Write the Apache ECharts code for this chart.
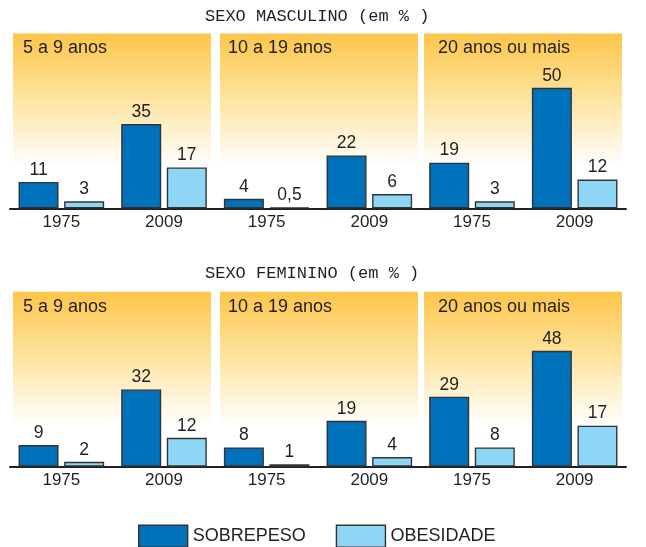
<!DOCTYPE html>
<html>
<head>
<meta charset="utf-8">
<script src="https://cdn.jsdelivr.net/npm/echarts@6/dist/echarts.min.js"></script>
<style>
html,body{margin:0;padding:0;background:#fff;}
#chart{width:646px;height:547px;}
</style>
</head>
<body>
<div id="chart"></div>
<script>
// ---- data ----
const years = ['1975', '2009'];
const ageGroups = ['5 a 9 anos', '10 a 19 anos', '20 anos ou mais'];
const maleSobrepeso = [11, 35, 4, 22, 19, 50];
const maleObesidade = [3, 17, 0.5, 6, 3, 12];
const femaleSobrepeso = [9, 32, 8, 19, 29, 48];
const femaleObesidade = [2, 12, 1, 4, 8, 17];
const rowTitles = ['SEXO MASCULINO (em % )', 'SEXO FEMININO (em % )'];
const seriesNames = ['SOBREPESO', 'OBESIDADE'];

// ---- layout / style ----
const FONT = "'Liberation Sans', Arial, sans-serif";
const MONO = "'Liberation Mono', 'DejaVu Sans Mono', monospace";
const TXT = '#231f20';
const DARK = '#0072bc';
const LIGHT = '#8ed6f6';
const gridLeft = 10, gridWidth = 616, gridHeight = 175;
const rowTops = [33.5, 291.7];
const panelLefts = [13, 220, 424];
const panelWidth = 198;
const labelOffsets = [10, 8, 14];
const yMax = 72.5;

const categories = [];
ageGroups.forEach((g, gi) => years.forEach(y => categories.push(gi + '|' + y)));

function grad() {
  return {
    type: 'linear', x: 0, y: 0, x2: 0, y2: 1,
    colorStops: [
      { offset: 0, color: '#fdc54a' },
      { offset: 0.35, color: '#fee29a' },
      { offset: 0.76, color: '#ffffff' },
      { offset: 1, color: '#ffffff' }
    ]
  };
}

const graphics = [];
rowTops.forEach((top, r) => {
  panelLefts.forEach((px, p) => {
    graphics.push({
      type: 'rect', z: -10, silent: true,
      shape: { x: px, y: top, width: panelWidth, height: gridHeight },
      style: { fill: grad() }
    });
    graphics.push({
      type: 'text', z: -5, silent: true,
      x: px + labelOffsets[p], y: top + 15,
      style: {
        text: ageGroups[p], fill: TXT, font: '18px ' + FONT,
        verticalAlign: 'middle', align: 'left'
      }
    });
  });
});

const fmt = p => String(p.value).replace('.', ',');

function barSeries(name, data, idx, color) {
  return {
    type: 'bar', name: name, data: data,
    xAxisIndex: idx, yAxisIndex: idx,
    barWidth: 40, barGap: '14%',
    itemStyle: { color: color, borderColor: '#333', borderWidth: 1.4 },
    label: {
      show: true, position: 'top', distance: 3, formatter: fmt,
      color: TXT, fontSize: 17.5, fontFamily: FONT
    }
  };
}

const xAxisCfg = idx => ({
  type: 'category', gridIndex: idx, data: categories,
  axisTick: { show: false },
  axisLine: { lineStyle: { color: TXT, width: 2 } },
  axisLabel: {
    formatter: v => v.split('|')[1], color: TXT,
    fontSize: 17, fontFamily: FONT, margin: 5
  }
});
const yAxisCfg = idx => ({
  type: 'value', gridIndex: idx, min: 0, max: yMax, show: false,
  splitLine: { show: false }
});

const chart = echarts.init(document.getElementById('chart'), null, { renderer: 'canvas' });
chart.setOption({
  animation: false,
  backgroundColor: '#ffffff',
  title: [
    { text: rowTitles[0], left: 205, top: 8, padding: 0,
      textStyle: { fontFamily: MONO, fontSize: 17, fontWeight: 'normal', color: TXT } },
    { text: rowTitles[1], left: 205, top: 265, padding: 0,
      textStyle: { fontFamily: MONO, fontSize: 17, fontWeight: 'normal', color: TXT } }
  ],
  legend: {
    data: seriesNames, left: 138, top: 524.5, padding: 0,
    icon: 'rect', itemWidth: 49, itemHeight: 22, itemGap: 30,
    itemStyle: { borderColor: '#333', borderWidth: 1.4 },
    textStyle: { fontSize: 18, fontFamily: FONT, color: TXT }
  },
  graphic: graphics,
  grid: rowTops.map(t => ({ left: gridLeft, width: gridWidth, top: t, height: gridHeight })),
  xAxis: [xAxisCfg(0), xAxisCfg(1)],
  yAxis: [yAxisCfg(0), yAxisCfg(1)],
  series: [
    barSeries(seriesNames[0], maleSobrepeso, 0, DARK),
    barSeries(seriesNames[1], maleObesidade, 0, LIGHT),
    barSeries(seriesNames[0], femaleSobrepeso, 1, DARK),
    barSeries(seriesNames[1], femaleObesidade, 1, LIGHT)
  ]
});
</script>
</body>
</html>
